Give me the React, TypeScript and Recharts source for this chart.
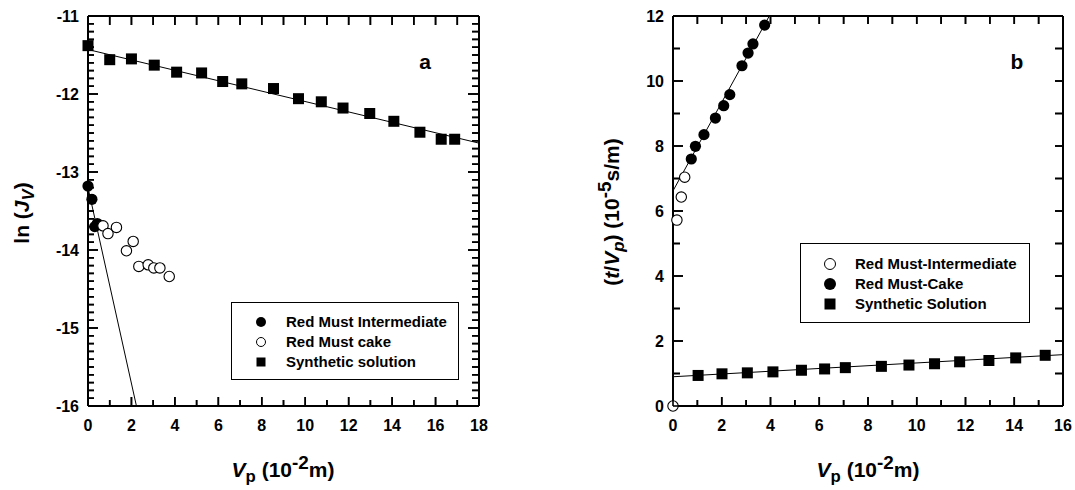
import React from 'react';
import { ScatterChart, Scatter, XAxis, YAxis, ReferenceLine, Legend } from 'recharts';

const FONT = '"Liberation Sans", Arial, Helvetica, sans-serif';

// ---------- Panel a : ln(Jv) vs Vp ----------
const synthAX = [0, 1.0, 2.0, 3.05, 4.08, 5.23, 6.2, 7.08, 8.54, 9.69, 10.74, 11.74, 12.97, 14.08, 15.28, 16.26, 16.88];
const synthAY = [-11.38, -11.56, -11.55, -11.63, -11.72, -11.73, -11.84, -11.87, -11.93, -12.06, -12.1, -12.18, -12.25, -12.35, -12.49, -12.58, -12.58];
const interAX = [0, 0.18, 0.31, 0.43];
const interAY = [-13.18, -13.35, -13.7, -13.66];
const cakeAX = [0.69, 0.92, 1.31, 1.77, 2.08, 2.34, 2.77, 3.03, 3.31, 3.74];
const cakeAY = [-13.69, -13.79, -13.71, -14.01, -13.89, -14.21, -14.19, -14.23, -14.23, -14.34];
const fitSynthA = [{ x: 0, y: -11.43 }, { x: 18, y: -12.63 }];
const fitInterA = [{ x: 0, y: -13.2 }, { x: 2.23, y: -16 }];
const namesA = ['Red Must Intermediate', 'Red Must cake', 'Synthetic solution'];
const domainXA = [0, 18];
const domainYA = [-16, -11];

// ---------- Panel b : t/Vp vs Vp ----------
const interBX = [0, 0.16, 0.34, 0.48];
const interBY = [0, 5.72, 6.43, 7.04];
const cakeBX = [0.75, 0.92, 1.27, 1.74, 2.08, 2.33, 2.83, 3.08, 3.28, 3.76];
const cakeBY = [7.6, 7.99, 8.35, 8.86, 9.24, 9.58, 10.47, 10.86, 11.14, 11.72];
const synthBX = [1.03, 2.01, 3.05, 4.1, 5.27, 6.22, 7.07, 8.55, 9.68, 10.73, 11.76, 12.96, 14.06, 15.27];
const synthBY = [0.94, 0.99, 1.02, 1.05, 1.1, 1.14, 1.18, 1.22, 1.26, 1.3, 1.36, 1.4, 1.48, 1.56];
const fitCakeB = [{ x: 0, y: 6.62 }, { x: 3.95, y: 12 }];
const fitSynthB = [{ x: 0, y: 0.9 }, { x: 16, y: 1.58 }];
const namesB = ['Red Must-Intermediate', 'Red Must-Cake', 'Synthetic Solution'];
const domainXB = [0, 16];
const domainYB = [0, 12];

// ---------- tick positions ----------
const xMajorA = [0, 2, 4, 6, 8, 10, 12, 14, 16, 18];
const xMinorA = [1, 3, 5, 7, 9, 11, 13, 15, 17];
const xAllA = [0, 1, 2, 3, 4, 5, 6, 7, 8, 9, 10, 11, 12, 13, 14, 15, 16, 17, 18];
const yMajorA = [-16, -15, -14, -13, -12, -11];
const yMinorA = Array.from({ length: 51 }, (_, i) => Math.round((-16 + i * 0.1) * 10) / 10)
  .filter((v) => Math.abs(v - Math.round(v)) > 1e-6);

const xMajorB = [0, 2, 4, 6, 8, 10, 12, 14, 16];
const xMinorB = [1, 3, 5, 7, 9, 11, 13, 15];
const xAllB = [0, 1, 2, 3, 4, 5, 6, 7, 8, 9, 10, 11, 12, 13, 14, 15, 16];
const yMajorB = [0, 2, 4, 6, 8, 10, 12];
const yMinorB = [1, 3, 5, 7, 9, 11];
const yAllB = [0, 1, 2, 3, 4, 5, 6, 7, 8, 9, 10, 11, 12];

const zip = (xs: number[], ys: number[]) => xs.map((x, i) => ({ x, y: ys[i] }));
const onX = (xs: number[], y: number) => xs.map((x) => ({ x, y }));
const onY = (ys: number[], x: number) => ys.map((y) => ({ x, y }));

// chart boxes
const CA = { left: 0, w: 540, h: 490, margin: { top: 15, right: 60, bottom: 83, left: 87 } };
const CB = { left: 540, w: 535, h: 490, margin: { top: 15, right: 11, bottom: 83, left: 132 } };

function makeLabel(side: 'bottom' | 'left') {
  return (props: any) => {
    const x = Number(props.x);
    const y = Number(props.y);
    const v = Number(props.payload && props.payload.value);
    const txt = String(Math.round(v));
    return side === 'bottom' ? (
      <text x={x} y={y + 25} textAnchor="middle" fontFamily={FONT} fontWeight="bold" fontSize={16} fill="#000">{txt}</text>
    ) : (
      <text x={x - 9} y={y + 6} textAnchor="end" fontFamily={FONT} fontWeight="bold" fontSize={16} fill="#000">{txt}</text>
    );
  };
}

function tickShape(dir: 'up' | 'down' | 'left' | 'right', len: number) {
  const t = 1.6;
  return (p: any) => {
    const cx = Number(p.cx), cy = Number(p.cy);
    if (dir === 'up') return <rect x={cx - t / 2} y={cy - len} width={t} height={len} fill="#000" />;
    if (dir === 'down') return <rect x={cx - t / 2} y={cy} width={t} height={len} fill="#000" />;
    if (dir === 'right') return <rect x={cx} y={cy - t / 2} width={len} height={t} fill="#000" />;
    return <rect x={cx - len} y={cy - t / 2} width={len} height={t} fill="#000" />;
  };
}

const FilledCircle = (p: any) => <circle cx={p.cx} cy={p.cy} r={5.6} fill="#000" />;
const OpenCircle = (p: any) => <circle cx={p.cx} cy={p.cy} r={5.2} fill="#fff" stroke="#000" strokeWidth={1.1} />;
const Square = (p: any) => <rect x={p.cx - 5.5} y={p.cy - 5.5} width={11} height={11} fill="#000" />;

const axisLineStyle = { stroke: '#000', strokeWidth: 2 };

function LegendBox({ payload, order, kinds, width, height, padTop, sym }: any) {
  const items = [...(payload || [])]
    .filter((it: any) => kinds[it.value])
    .sort((a: any, b: any) => order.indexOf(a.value) - order.indexOf(b.value));
  return (
    <div style={{ boxSizing: 'border-box', width, height, border: '1.5px solid #000', background: '#fff', paddingTop: padTop }}>
      {items.map((it: any) => {
        const kind = kinds[it.value];
        return (
          <div key={it.value} style={{ position: 'relative', height: 20, lineHeight: '20px' }}>
            <svg width={20} height={20} style={{ position: 'absolute', left: 19, top: 0 }}>
              {kind === 'filled' && <circle cx={10} cy={10} r={sym.r} fill="#000" />}
              {kind === 'open' && <circle cx={10} cy={10} r={sym.r - 0.5} fill="#fff" stroke="#000" strokeWidth={1} />}
              {kind === 'square' && <rect x={10 - sym.s / 2} y={10 - sym.s / 2} width={sym.s} height={sym.s} fill="#000" />}
            </svg>
            <span style={{ position: 'absolute', left: 54, top: 0, fontFamily: FONT, fontWeight: 'bold', fontSize: 15, whiteSpace: 'nowrap', color: '#000' }}>{it.value}</span>
          </div>
        );
      })}
    </div>
  );
}

const kindsA: Record<string, string> = { [namesA[0]]: 'filled', [namesA[1]]: 'open', [namesA[2]]: 'square' };
const kindsB: Record<string, string> = { [namesB[0]]: 'open', [namesB[1]]: 'filled', [namesB[2]]: 'square' };

const titleBase: React.CSSProperties = {
  position: 'absolute', fontFamily: FONT, fontWeight: 'bold', fontSize: 21, color: '#000',
  whiteSpace: 'nowrap', textAlign: 'center', lineHeight: '24px', height: 24, width: 300,
};
const subStyle: React.CSSProperties = { fontSize: '0.8em', position: 'relative', top: '0.3em' };
const supStyle: React.CSSProperties = { fontSize: '0.9em', position: 'relative', top: '-0.45em' };

function tickSeries(key: string, data: { x: number; y: number }[], dir: 'up' | 'down' | 'left' | 'right', len: number) {
  return (
    <Scatter key={key} name={key} data={data} shape={tickShape(dir, len)} legendType="none" isAnimationActive={false} />
  );
}

// Frame tick marks derived from each panel's domain and plot box (same geometry as the charts)
function FrameTicks({ c, xd, yd, xAll, xMaj, yAll, yMaj, L }: any) {
  const x0 = c.left + c.margin.left + 1;
  const x1 = c.left + c.w - c.margin.right - 1;
  const y0 = c.margin.top + 1;
  const y1 = c.h - c.margin.bottom - 1;
  const sx = (v: number) => x0 + ((v - xd[0]) / (xd[1] - xd[0])) * (x1 - x0);
  const sy = (v: number) => y1 - ((v - yd[0]) / (yd[1] - yd[0])) * (y1 - y0);
  const has = (arr: number[], v: number) => arr.some((m) => Math.abs(m - v) < 1e-6);
  const out: any[] = [];
  xAll.forEach((v: number, i: number) => {
    const m = has(xMaj, v);
    const px = sx(v);
    out.push(<line key={'b' + i} x1={px} y1={y1} x2={px} y2={y1 - (m ? L.bMaj : L.bMin)} />);
    out.push(<line key={'t' + i} x1={px} y1={y0} x2={px} y2={y0 + (m ? L.tMaj : L.tMin)} />);
  });
  yAll.forEach((v: number, i: number) => {
    const m = has(yMaj, v);
    const py = sy(v);
    out.push(<line key={'l' + i} x1={x0} y1={py} x2={x0 + (m ? L.lMaj : L.lMin)} y2={py} />);
    out.push(<line key={'r' + i} x1={x1} y1={py} x2={x1 - (m ? L.rMaj : L.rMin)} y2={py} />);
  });
  return <g stroke="#000" strokeWidth={1.6}>{out}</g>;
}

const yAllA = Array.from({ length: 51 }, (_, i) => Math.round((-16 + i * 0.1) * 10) / 10);

export default function App() {
  return (
    <div style={{ position: 'absolute', left: 0, top: 0, width: 1075, height: 490, background: '#fff', overflow: 'hidden' }}>
      {/* Panel a */}
      <div style={{ position: 'absolute', left: CA.left, top: 0 }}>
        <ScatterChart width={CA.w} height={CA.h} margin={CA.margin}>
          <XAxis xAxisId={0} type="number" dataKey="x" domain={domainXA} ticks={xMajorA} interval={0} height={1}
            tickSize={0} tickMargin={0} tickLine={false} axisLine={axisLineStyle} tick={makeLabel('bottom')} />
          <XAxis xAxisId="top" orientation="top" type="number" domain={domainXA} height={1}
            allowDataOverflow tick={false} tickLine={false} axisLine={axisLineStyle} />
          <YAxis yAxisId={0} type="number" dataKey="y" domain={domainYA} ticks={yMajorA} interval={0} width={1}
            tickSize={0} tickMargin={0} tickLine={false} axisLine={axisLineStyle} tick={makeLabel('left')} />
          <YAxis yAxisId="right" orientation="right" type="number" domain={domainYA} width={1}
            allowDataOverflow tick={false} tickLine={false} axisLine={axisLineStyle} />
          {tickSeries('tickA-bMaj', onX(xMajorA, domainYA[0]), 'up', 9)}
          {tickSeries('tickA-bMin', onX(xMinorA, domainYA[0]), 'up', 6)}
          {tickSeries('tickA-top', onX(xAllA, domainYA[1]), 'down', 9)}
          {tickSeries('tickA-lMaj', onY(yMajorA, domainXA[0]), 'right', 10)}
          {tickSeries('tickA-lMin', onY(yMinorA, domainXA[0]), 'right', 6)}
          {tickSeries('tickA-rMaj', onY(yMajorA, domainXA[1]), 'left', 11)}
          {tickSeries('tickA-rMin', onY(yMinorA, domainXA[1]), 'left', 7)}
          <ReferenceLine segment={fitSynthA} stroke="#000" strokeWidth={1} ifOverflow="visible" />
          <ReferenceLine segment={fitInterA} stroke="#000" strokeWidth={1} ifOverflow="visible" />
          <Scatter name={namesA[0]} data={zip(interAX, interAY)} fill="#000" shape={FilledCircle} isAnimationActive={false} />
          <Scatter name={namesA[1]} data={zip(cakeAX, cakeAY)} fill="#fff" shape={OpenCircle} isAnimationActive={false} />
          <Scatter name={namesA[2]} data={zip(synthAX, synthAY)} fill="#000" shape={Square} isAnimationActive={false} />
          <Legend layout="vertical" align="center" verticalAlign="middle"
            itemSorter={(item: any) => namesA.indexOf(item.value)}
            wrapperStyle={{ left: 231, top: 302, width: 228, height: 78 }}
            content={(p: any) => <LegendBox payload={p.payload} order={namesA} kinds={kindsA} width={228} height={78} padTop={9} sym={{ r: 5, s: 9 }} />} />
        </ScatterChart>
      </div>

      {/* Panel b */}
      <div style={{ position: 'absolute', left: CB.left, top: 0 }}>
        <ScatterChart width={CB.w} height={CB.h} margin={CB.margin}>
          <XAxis xAxisId={0} type="number" dataKey="x" domain={domainXB} ticks={xMajorB} interval={0} height={1}
            tickSize={0} tickMargin={0} tickLine={false} axisLine={axisLineStyle} tick={makeLabel('bottom')} />
          <XAxis xAxisId="top" orientation="top" type="number" domain={domainXB} height={1}
            allowDataOverflow tick={false} tickLine={false} axisLine={axisLineStyle} />
          <YAxis yAxisId={0} type="number" dataKey="y" domain={domainYB} ticks={yMajorB} interval={0} width={1}
            tickSize={0} tickMargin={0} tickLine={false} axisLine={axisLineStyle} tick={makeLabel('left')} />
          <YAxis yAxisId="right" orientation="right" type="number" domain={domainYB} width={1}
            allowDataOverflow tick={false} tickLine={false} axisLine={axisLineStyle} />
          {tickSeries('tickB-bMaj', onX(xMajorB, domainYB[0]), 'up', 9)}
          {tickSeries('tickB-bMin', onX(xMinorB, domainYB[0]), 'up', 6)}
          {tickSeries('tickB-top', onX(xAllB, domainYB[1]), 'down', 8)}
          {tickSeries('tickB-lMaj', onY(yMajorB, domainXB[0]), 'right', 10)}
          {tickSeries('tickB-lMin', onY(yMinorB, domainXB[0]), 'right', 7)}
          {tickSeries('tickB-right', onY(yAllB, domainXB[1]), 'left', 8)}
          <ReferenceLine segment={fitCakeB} stroke="#000" strokeWidth={1} ifOverflow="visible" />
          <ReferenceLine segment={fitSynthB} stroke="#000" strokeWidth={1} ifOverflow="visible" />
          <Scatter name={namesB[0]} data={zip(interBX, interBY)} fill="#fff" shape={OpenCircle} isAnimationActive={false} />
          <Scatter name={namesB[1]} data={zip(cakeBX, cakeBY)} fill="#000" shape={FilledCircle} isAnimationActive={false} />
          <Scatter name={namesB[2]} data={zip(synthBX, synthBY)} fill="#000" shape={Square} isAnimationActive={false} />
          <Legend layout="vertical" align="center" verticalAlign="middle"
            itemSorter={(item: any) => namesB.indexOf(item.value)}
            wrapperStyle={{ left: 260, top: 243, width: 230, height: 80 }}
            content={(p: any) => <LegendBox payload={p.payload} order={namesB} kinds={kindsB} width={230} height={80} padTop={10} sym={{ r: 6, s: 11 }} />} />
        </ScatterChart>
      </div>

      {/* frame tick marks */}
      <svg width={1075} height={490} style={{ position: 'absolute', left: 0, top: 0, pointerEvents: 'none' }}>
        <FrameTicks c={CA} xd={domainXA} yd={domainYA} xAll={xAllA} xMaj={xMajorA} yAll={yAllA} yMaj={yMajorA}
          L={{ bMaj: 9, bMin: 6, tMaj: 9, tMin: 9, lMaj: 10, lMin: 6, rMaj: 11, rMin: 7 }} />
        <FrameTicks c={CB} xd={domainXB} yd={domainYB} xAll={xAllB} xMaj={xMajorB} yAll={yAllB} yMaj={yMajorB}
          L={{ bMaj: 9, bMin: 6, tMaj: 8, tMin: 8, lMaj: 10, lMin: 7, rMaj: 8, rMin: 8 }} />
      </svg>

      {/* Panel letters */}
      <div style={{ position: 'absolute', left: 415, top: 50, width: 20, textAlign: 'center', fontFamily: FONT, fontWeight: 'bold', fontSize: 21, lineHeight: '24px' }}>a</div>
      <div style={{ position: 'absolute', left: 1007, top: 50, width: 20, textAlign: 'center', fontFamily: FONT, fontWeight: 'bold', fontSize: 21, lineHeight: '24px' }}>b</div>

      {/* X axis titles */}
      <div style={{ ...titleBase, left: 283 - 150, top: 458 }}>
        <i>V</i><span style={subStyle}>p</span> (10<span style={supStyle}>-2</span>m)
      </div>
      <div style={{ ...titleBase, left: 868 - 150, top: 458 }}>
        <i>V</i><span style={subStyle}>p</span> (10<span style={supStyle}>-2</span>m)
      </div>

      {/* Y axis titles */}
      <div style={{ ...titleBase, left: 22 - 150, top: 213 - 12, transform: 'rotate(-90deg)' }}>
        ln (<i>J</i><i style={subStyle}>V</i>)
      </div>
      <div style={{ ...titleBase, left: 612 - 150, top: 212 - 12, transform: 'rotate(-90deg)' }}>
        (<i>t</i>/<i>V</i><i style={subStyle}>p</i>) (10<span style={supStyle}>-5</span>s/m)
      </div>
    </div>
  );
}
